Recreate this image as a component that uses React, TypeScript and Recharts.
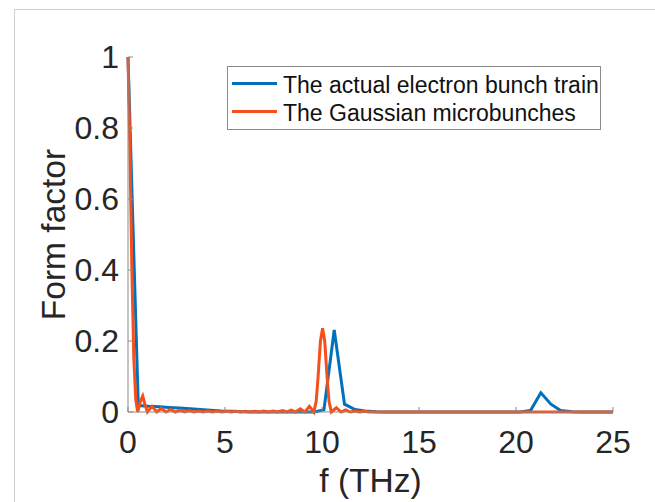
import React from "react";
import { LineChart, Line, XAxis, YAxis, Legend } from "recharts";

// actual electron bunch train (blue)
const actualFreq = [
  0, 0.53, 1.06, 1.6, 2.13, 2.66, 3.2, 3.73, 4.26, 4.8, 5.33, 5.86, 6.4,
  9.6, 10.1, 10.63, 11.16, 11.7, 12.2, 12.8, 13.3,
  20.2, 20.75, 21.28, 21.8, 22.3, 22.9, 23.4, 25,
];
const actualForm = [
  1, 0.018, 0.016, 0.015, 0.013, 0.011, 0.009, 0.007, 0.005, 0.003, 0.002, 0.001, 0,
  0, 0.006, 0.231, 0.022, 0.007, 0.003, 0.001, 0,
  0, 0.004, 0.054, 0.022, 0.004, 0.001, 0, 0,
];

// Gaussian microbunches (orange)
const gaussFreq = [
  0, 0.1, 0.2, 0.3, 0.4, 0.5, 0.64, 0.76, 0.88, 1.0, 1.24, 1.48, 1.72, 1.96,
  2.2, 2.44, 2.68, 2.92, 3.16, 3.4, 3.64, 3.88, 4.12, 4.36, 4.6, 4.84, 5.08,
  5.32, 5.56, 5.8, 6.04, 6.28, 6.52, 6.76, 7.0, 7.24, 7.48, 7.72, 7.96, 8.2,
  8.4, 8.64, 8.88, 9.12, 9.35, 9.58, 9.7, 9.8, 9.92, 10.03, 10.14, 10.26,
  10.36, 10.48, 10.74, 10.98, 11.22, 11.46, 11.7, 11.94, 12.18, 12.42, 25,
];
const gaussForm = [
  1, 0.74, 0.4, 0.15, 0.035, 0, 0.03, 0.045, 0.02, 0, 0.016, 0, 0.01, 0,
  0.007, 0, 0.005, 0, 0.004, 0, 0.003, 0, 0.003, 0, 0.003, 0, 0.002,
  0, 0.002, 0, 0.002, 0, 0.002, 0, 0.003, 0, 0.003, 0, 0.004, 0,
  0.005, 0, 0.009, 0, 0.016, 0, 0.03, 0.1, 0.2, 0.236, 0.2, 0.1,
  0.03, 0, 0.012, 0, 0.006, 0, 0.003, 0, 0.002, 0, 0,
];

const xTicks = [0, 5, 10, 15, 20, 25];
const yTicks = [0, 0.2, 0.4, 0.6, 0.8, 1];

const seriesNames = ["The actual electron bunch train", "The Gaussian microbunches"];
const seriesColors = ["#0072BD", "#F5501A"];

const actualData = actualFreq.map((f, i) => ({ f, v: actualForm[i] }));
const gaussData = gaussFreq.map((f, i) => ({ f, v: gaussForm[i] }));

const FONT = "'Liberation Sans', Arial, Helvetica, sans-serif";
const AXIS = "#8a8a8a";
const TEXT = "#262626";

const LegendBox = () => (
  <svg width={374} height={64} style={{ display: "block" }}>
    <rect x={0.5} y={0.5} width={373} height={63} fill="#fff" stroke={AXIS} />
    {seriesNames.map((name, i) => (
      <g key={name}>
        <line x1={5} x2={50} y1={17.5 + i * 28} y2={17.5 + i * 28} stroke={seriesColors[i]} strokeWidth={3} />
        <text x={56} y={27 + i * 28} fontSize={23} fill="#111" fontFamily={FONT}>
          {name}
        </text>
      </g>
    ))}
  </svg>
);

export default function App() {
  return (
    <div style={{ position: "absolute", left: 0, top: 0, width: 655, height: 502, background: "#fff" }}>
      <div
        style={{
          position: "absolute",
          left: 14,
          top: 9,
          right: 0,
          bottom: 0,
          borderLeft: "1.5px solid #d0d0d0",
          borderTop: "1.5px solid #d0d0d0",
        }}
      />
      <LineChart
        width={655}
        height={502}
        margin={{ top: 57, right: 42, bottom: 0, left: 0 }}
        style={{ position: "absolute", left: 0, top: 0, fontFamily: FONT }}
      >
        <XAxis
          xAxisId="bottom"
          dataKey="f"
          type="number"
          domain={[0, 25]}
          ticks={xTicks}
          height={90}
          stroke={AXIS}
          tickSize={-5}
          tickMargin={23}
          tick={{ fontSize: 32, fill: TEXT }}
          label={{
            content: ({ viewBox }: any) => (
              <text
                x={viewBox.x + viewBox.width / 2}
                y={viewBox.y + 80}
                textAnchor="middle"
                fontSize={33.5}
                fill={TEXT}
                fontFamily={FONT}
              >
                f (THz)
              </text>
            ),
          }}
        />
        <XAxis
          xAxisId="top"
          orientation="top"
          dataKey="f"
          type="number"
          domain={[0, 25]}
          ticks={xTicks}
          height={0}
          stroke={AXIS}
          tickSize={-5}
          tickFormatter={() => ""}
        />
        <YAxis
          yAxisId="left"
          type="number"
          domain={[0, 1]}
          ticks={yTicks}
          width={128}
          stroke={AXIS}
          tickSize={-5}
          tickMargin={14}
          tick={{ fontSize: 32, fill: TEXT }}
          label={{
            content: ({ viewBox }: any) => {
              const cx = viewBox.x + 65;
              const cy = viewBox.y + viewBox.height / 2;
              return (
                <text
                  x={cx}
                  y={cy}
                  transform={`rotate(-90, ${cx}, ${cy})`}
                  textAnchor="middle"
                  fontSize={33.5}
                  fill={TEXT}
                  fontFamily={FONT}
                >
                  Form factor
                </text>
              );
            },
          }}
        />
        <YAxis
          yAxisId="right"
          orientation="right"
          type="number"
          domain={[0, 1]}
          ticks={yTicks}
          width={0}
          stroke={AXIS}
          tickSize={-5}
          tickFormatter={() => ""}
        />
        <Legend
          layout="horizontal"
          verticalAlign="middle"
          align="center"
          wrapperStyle={{ position: "absolute", left: 227, top: 66, width: 374, height: 64 }}
          content={() => <LegendBox />}
        />
        <Line
          data={actualData}
          xAxisId="bottom"
          yAxisId="left"
          dataKey="v"
          type="linear"
          stroke={seriesColors[0]}
          strokeWidth={3}
          dot={false}
          isAnimationActive={false}
        />
        <Line
          data={gaussData}
          xAxisId="bottom"
          yAxisId="left"
          dataKey="v"
          type="linear"
          stroke={seriesColors[1]}
          strokeWidth={3}
          dot={false}
          isAnimationActive={false}
        />
      </LineChart>
    </div>
  );
}
